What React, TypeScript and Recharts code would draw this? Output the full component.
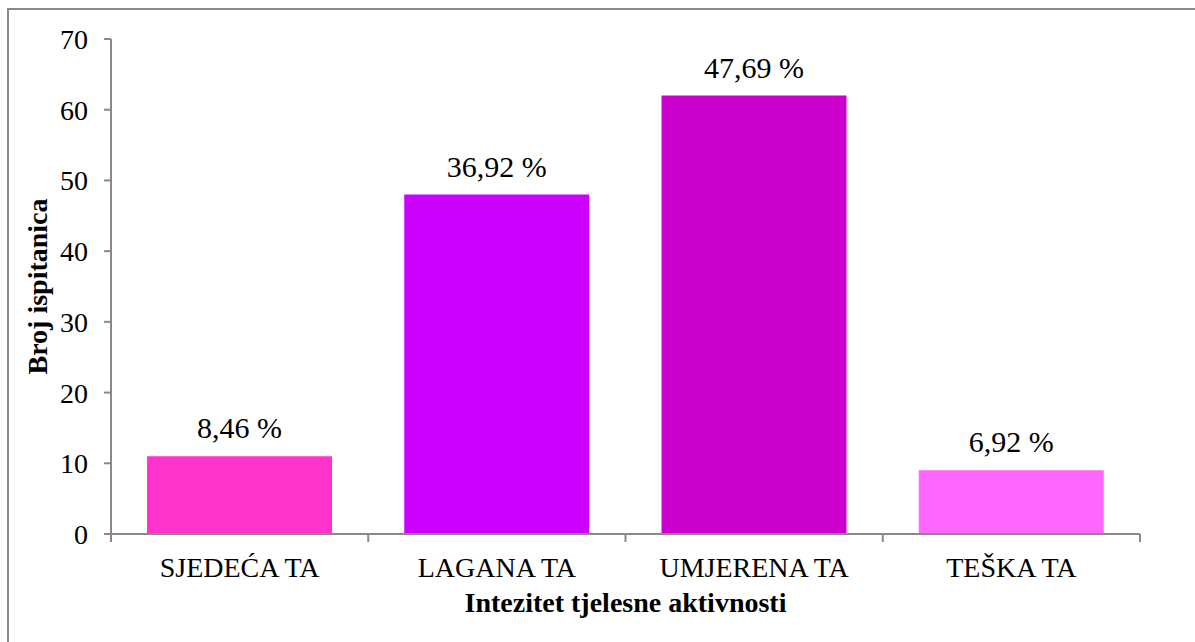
import { Bar, BarChart, Cell, LabelList, XAxis, YAxis } from "recharts";

const categories = ["SJEDEĆA TA", "LAGANA TA", "UMJERENA TA", "TEŠKA TA"];
const counts = [11, 48, 62, 9];
const percentLabels = ["8,46 %", "36,92 %", "47,69 %", "6,92 %"];
const yTicks = [0, 10, 20, 30, 40, 50, 60, 70];

const barColors = ["#FF33CC", "#CC00FF", "#CC00CC", "#FF66FF"];

const data = categories.map((name, i) => ({ name, count: counts[i], pct: percentLabels[i] }));

const FONT = "Liberation Serif";
const AXIS = "#898989";

function YTitle({ viewBox }: any) {
  const cx = viewBox.x + 37;
  const cy = viewBox.y + viewBox.height / 2;
  return (
    <text x={cx} y={cy} transform={`rotate(-90 ${cx} ${cy})`} textAnchor="middle" dominantBaseline="central" style={{ fontFamily: FONT }} fontWeight="bold" fontSize={28} fill="#000">
      Broj ispitanica
    </text>
  );
}

function XTitle({ viewBox }: any) {
  const cx = viewBox.x + viewBox.width / 2;
  return (
    <text x={cx} y={612} textAnchor="middle" style={{ fontFamily: FONT }} fontWeight="bold" fontSize={28} fill="#000">
      Intezitet tjelesne aktivnosti
    </text>
  );
}

// category label plus tick marks at the band edges
function CategoryTick({ x, y, width, payload, index }: any) {
  const band = width / categories.length;
  const left = x - band / 2;
  return (
    <g>
      <line x1={left} x2={left} y1={y} y2={y + 8} stroke={AXIS} strokeWidth={2} />
      {index === categories.length - 1 && (
        <line x1={left + band} x2={left + band} y1={y} y2={y + 8} stroke={AXIS} strokeWidth={2} />
      )}
      <text x={x} y={y + 43} textAnchor="middle" style={{ fontFamily: FONT }} fontSize={28} fill="#000">
        {payload.value}
      </text>
    </g>
  );
}

function ValueTick({ x, y, payload }: any) {
  return (
    <text x={x} y={y} dy={10} textAnchor="end" style={{ fontFamily: FONT }} fontSize={28} fill="#000">
      {payload.value}
    </text>
  );
}

function PctLabel({ x, y, width, value }: any) {
  return (
    <text x={x + width / 2} y={y - 18} textAnchor="middle" style={{ fontFamily: FONT }} fontSize={30} fill="#000">
      {value}
    </text>
  );
}

export default function App() {
  return (
    <div style={{ position: "absolute", left: 0, top: 0, width: 1195, height: 642, overflow: "hidden", background: "#fff", fontFamily: FONT }}>
      <div style={{ position: "absolute", left: 7, top: 8, width: 1300, height: 800, borderLeft: `2px solid ${AXIS}`, borderTop: `2px solid ${AXIS}` }} />
      <div style={{ position: "absolute", left: 0, top: 0 }}>
        <BarChart width={1195} height={642} data={data} margin={{ top: 39, right: 55, bottom: 48, left: 0 }} barCategoryGap="14%">
          <XAxis
            dataKey="name"
            height={60}
            axisLine={{ stroke: AXIS, strokeWidth: 2 }}
            tickLine={false}
            tickSize={0}
            tickMargin={0}
            tick={<CategoryTick />}
            interval={0}
            label={<XTitle />}
          />
          <YAxis
            domain={[0, 70]}
            ticks={yTicks}
            width={111}
            axisLine={{ stroke: AXIS, strokeWidth: 2 }}
            tickLine={{ stroke: AXIS, strokeWidth: 2 }}
            tickSize={7}
            tickMargin={16}
            tick={<ValueTick />}
            label={<YTitle />}
          />
          <Bar dataKey="count" isAnimationActive={false}>
            {data.map((d, i) => (
              <Cell key={d.name} fill={barColors[i]} />
            ))}
            <LabelList dataKey="pct" content={<PctLabel />} />
          </Bar>
        </BarChart>
      </div>
    </div>
  );
}
